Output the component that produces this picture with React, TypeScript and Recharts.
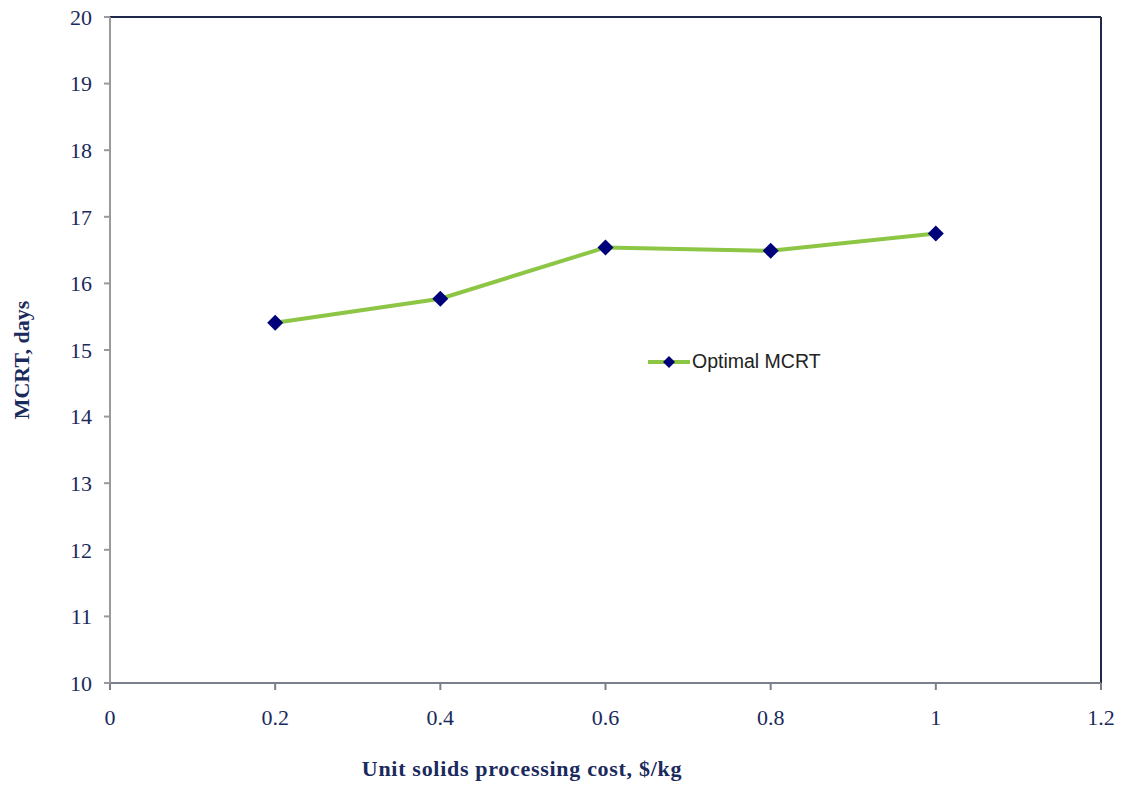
import React from "react";
import { LineChart, Line, XAxis, YAxis, ReferenceLine, Legend } from "recharts";

const costs = [0.2, 0.4, 0.6, 0.8, 1.0];
const mcrt = [15.41, 15.77, 16.54, 16.49, 16.75];
const xTicks = [0, 0.2, 0.4, 0.6, 0.8, 1, 1.2];
const yTicks = [10, 11, 12, 13, 14, 15, 16, 17, 18, 19, 20];

const data = costs.map((c, i) => ({ cost: c, mcrt: mcrt[i] }));

const NAVY = "#1b2a5c";
const GREEN = "#8dc645";
const MARKER = "#00007a";

function Diamond({ cx, cy }: { cx?: number; cy?: number }) {
  if (cx == null || cy == null) return null;
  const r = 8;
  return (
    <polygon
      points={`${cx},${cy - r} ${cx + r},${cy} ${cx},${cy + r} ${cx - r},${cy}`}
      fill={MARKER}
    />
  );
}

function LegendBox() {
  return (
    <div style={{ display: "flex", alignItems: "center", fontFamily: "Liberation Sans, Arial, sans-serif", fontSize: 19.5, color: "#222" }}>
      <svg width={42} height={16}>
        <line x1={0} y1={8} x2={42} y2={8} stroke={GREEN} strokeWidth={4} />
        <polygon points="21,2 27,8 21,14 15,8" fill={MARKER} />
      </svg>
      <span style={{ marginLeft: 2 }}>Optimal MCRT</span>
    </div>
  );
}

export default function App() {
  const serif = "Liberation Serif, Times New Roman, serif";
  return (
    <div style={{ position: "absolute", left: 0, top: 0, width: 1133, height: 786, background: "#fff" }}>
      <LineChart width={1133} height={786} data={data} margin={{ top: 17, right: 32, bottom: 0, left: 0 }}>
        <XAxis
          dataKey="cost"
          type="number"
          domain={[0, 1.2]}
          ticks={xTicks}
          tickFormatter={(v: number) => String(Math.round(v * 10) / 10)}
          stroke="#7a7f8a"
          strokeWidth={2}
          tickSize={7}
          tickMargin={19}
          height={80}
          tick={{ fill: NAVY, fontFamily: serif, fontSize: 22 }}
        />
        <YAxis
          type="number"
          domain={[10, 20]}
          ticks={yTicks}
          stroke="#9a9a9a"
          strokeWidth={2}
          tickSize={6}
          tickMargin={12}
          width={110}
          tick={{ fill: NAVY, fontFamily: serif, fontSize: 22 }}
        />
        <ReferenceLine y={20} stroke="#1f2a4a" strokeWidth={2} />
        <ReferenceLine x={1.2} stroke="#1f2a4a" strokeWidth={2} />
        <Legend
          content={<LegendBox />}
          wrapperStyle={{ position: "absolute", left: 648, top: 350, width: 230 }}
        />
        <Line
          dataKey="mcrt"
          name="Optimal MCRT"
          stroke={GREEN}
          strokeWidth={4}
          dot={<Diamond />}
          activeDot={false}
          isAnimationActive={false}
        />
      </LineChart>
      <div
        style={{
          position: "absolute",
          left: 0,
          top: 756,
          width: 1044,
          textAlign: "center",
          fontFamily: serif,
          fontWeight: "bold",
          fontSize: 22,
          letterSpacing: 0.7,
          color: NAVY,
        }}
      >
        Unit solids processing cost, $/kg
      </div>
      <div
        style={{
          position: "absolute",
          left: 22,
          top: 360,
          transform: "translate(-50%, -50%) rotate(-90deg)",
          whiteSpace: "nowrap",
          fontFamily: serif,
          fontWeight: "bold",
          fontSize: 22,
          color: NAVY,
        }}
      >
        MCRT, days
      </div>
    </div>
  );
}
